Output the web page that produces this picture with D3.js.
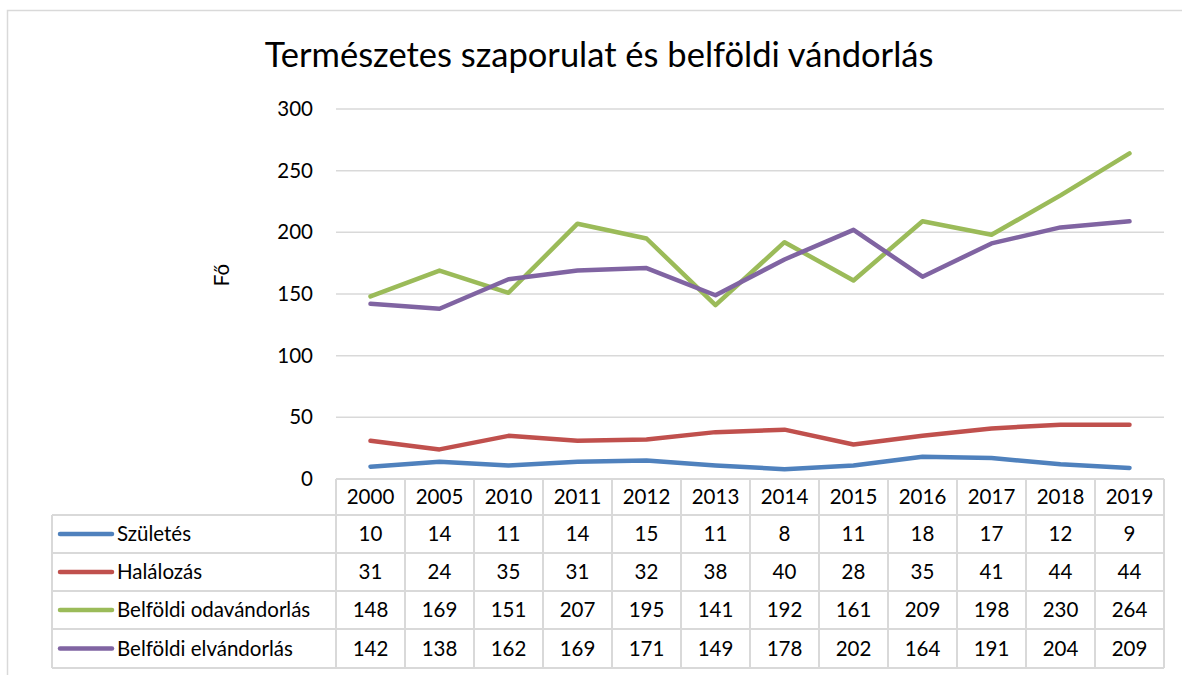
<!DOCTYPE html>
<html><head><meta charset="utf-8">
<script src="https://cdn.jsdelivr.net/npm/d3@7"></script>
<style>body{margin:0;background:#fff}svg{display:block}text{font-family:Lato,"Open Sans",sans-serif;fill:#000}</style>
</head><body><svg id="c" width="1182" height="675"></svg>
<script>
const years = ["2000","2005","2010","2011","2012","2013","2014","2015","2016","2017","2018","2019"];
const seriesNames = ["Születés","Halálozás","Belföldi odavándorlás","Belföldi elvándorlás"];
const szuletes = [10,14,11,14,15,11,8,11,18,17,12,9];
const halalozas = [31,24,35,31,32,38,40,28,35,41,44,44];
const odavandorlas = [148,169,151,207,195,141,192,161,209,198,230,264];
const elvandorlas = [142,138,162,169,171,149,178,202,164,191,204,209];
const colors = ["#4f81bd","#c0504d","#9bbb59","#8064a2"];
const yTicks = [0,50,100,150,200,250,300];
const title = "Természetes szaporulat és belföldi vándorlás";
const yLabel = "Fő";

const series = [szuletes, halalozas, odavandorlas, elvandorlas];
const svg = d3.select("#c");
const L = 336, R = 1164, T = 109, B = 479;
const FS = "20.5px";
const x = d3.scaleBand().domain(years).range([L, R]);
const y = d3.scaleLinear().domain([0, 300]).range([B, T]);

// outer border
svg.append("rect").attr("x",7.5).attr("y",10.5).attr("width",1190).attr("height",700)
  .attr("fill","none").attr("stroke","#d9d9d9").attr("stroke-width",1.5);

svg.append("text").attr("x",599).attr("y",67).attr("text-anchor","middle")
  .style("font-size","34.5px").text(title);

// gridlines
svg.append("g").selectAll("line").data(yTicks.filter(d=>d>0)).join("line")
  .attr("x1",L).attr("x2",R).attr("y1",d=>y(d)).attr("y2",d=>y(d))
  .attr("stroke","#d9d9d9").attr("stroke-width",1.5);

// y axis labels
const yAxis = d3.axisLeft(y).tickValues(yTicks).tickSize(0).tickPadding(0);
const ga = svg.append("g").attr("transform",`translate(313,0)`).call(yAxis);
ga.select(".domain").remove();
ga.selectAll("text").style("font-size",FS).style("font-family","Lato,'Open Sans',sans-serif").attr("fill","#000");

svg.append("text").attr("transform","translate(229,275) rotate(-90)").attr("text-anchor","middle")
  .style("font-size",FS).text(yLabel);

// lines
const line = d3.line().x((d,i)=>x(years[i])+x.bandwidth()/2).y(d=>y(d));
series.forEach((s,k)=>{
  svg.append("path").attr("d",line(s)).attr("fill","none").attr("stroke",colors[k])
    .attr("stroke-width",4.5).attr("stroke-linejoin","round").attr("stroke-linecap","round");
});

// data table
const rowY = [479,515,553,591,629,668];
const tableLeft = 52;
const g = svg.append("g");
const grid = "#d9d9d9";
g.append("line").attr("x1",L).attr("x2",R).attr("y1",rowY[0]).attr("y2",rowY[0]).attr("stroke",grid).attr("stroke-width",2);
for (let r=1;r<rowY.length;r++){
  g.append("line").attr("x1",tableLeft).attr("x2",R).attr("y1",rowY[r]).attr("y2",rowY[r]).attr("stroke",grid).attr("stroke-width",2);
}
g.append("line").attr("x1",tableLeft).attr("x2",tableLeft).attr("y1",rowY[1]).attr("y2",rowY[5]).attr("stroke",grid).attr("stroke-width",2);
years.forEach((yr,i)=>{
  g.append("line").attr("x1",x(yr)).attr("x2",x(yr)).attr("y1",rowY[0]).attr("y2",rowY[5]).attr("stroke",grid).attr("stroke-width",2);
});
g.append("line").attr("x1",R).attr("x2",R).attr("y1",rowY[0]).attr("y2",rowY[5]).attr("stroke",grid).attr("stroke-width",2);

years.forEach(yr=>{
  g.append("text").attr("x",x(yr)+x.bandwidth()/2).attr("y",(rowY[0]+rowY[1])/2+7)
    .attr("text-anchor","middle").style("font-size",FS).text(yr);
});
series.forEach((s,k)=>{
  const cy = (rowY[k+1]+rowY[k+2])/2;
  g.append("line").attr("x1",60).attr("x2",112).attr("y1",cy).attr("y2",cy)
    .attr("stroke",colors[k]).attr("stroke-width",4.5).attr("stroke-linecap","round");
  g.append("text").attr("x",117).attr("y",cy+7).style("font-size",FS).text(seriesNames[k]);
  s.forEach((v,i)=>{
    g.append("text").attr("x",x(years[i])+x.bandwidth()/2).attr("y",cy+7)
      .attr("text-anchor","middle").style("font-size",FS).text(v);
  });
});
</script></body></html>
